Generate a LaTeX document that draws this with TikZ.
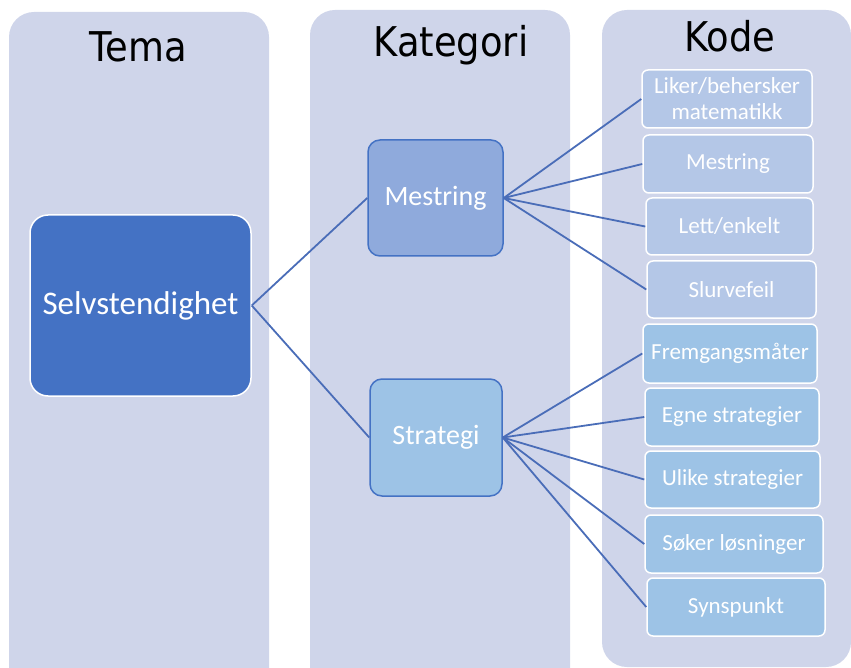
\documentclass[tikz,border=0pt]{standalone}
\usepackage{fontspec}
\setmainfont{Carlito}
\newfontfamily\titlefont[FakeStretch=0.9]{DejaVu Sans}
\definecolor{panelc}{HTML}{CFD5EA}
\definecolor{darkb}{HTML}{4472C4}
\definecolor{midb}{HTML}{8FAADC}
\definecolor{lightb}{HTML}{9DC3E6}
\definecolor{paleb}{HTML}{B4C7E7}
\definecolor{linec}{HTML}{4A6DB8}
\tikzset{
  panel/.style={fill=panelc, draw=none, rounded corners=25pt},
  title/.style={font=\titlefont\fontsize{41}{44}\selectfont, text=black, anchor=base},
  boxbase/.style={rectangle, inner sep=0pt, text=white, align=center, line width=1.5pt},
  themebox/.style={boxbase, fill=darkb, draw=white, rounded corners=18pt, font=\fontsize{33}{38}\selectfont},
  catbox/.style={boxbase, draw=darkb, rounded corners=12pt, font=\fontsize{28}{32}\selectfont},
  codebox/.style={boxbase, draw=white, rounded corners=6pt, font=\fontsize{23}{26}\selectfont},
  conn/.style={draw=linec, line width=1.8pt},
}
\begin{document}
\begin{tikzpicture}[x=1pt, y=-1pt]
\useasboundingbox (0,0) rectangle (851,668);
\begin{scope}
\clip (0,0) rectangle (851,668);
\fill[panel] (9,12) rectangle (269,720);
\fill[panel] (310,10) rectangle (570,720);
\fill[panel] (602,10) rectangle (851,667);
\end{scope}

\node[title] (ttema) at (138,62) {Tema};
\node[title] (tkat) at (451,57) {Kategori};
\node[title] (tkode) at (730,52) {Kode};

\node[themebox, minimum width=221pt, minimum height=181pt] (selv) at (140.5,305.5) {Selvstendighet};

\node[catbox, fill=midb, minimum width=135pt, minimum height=116pt] (mest) at (435.5,198) {Mestring};
\node[catbox, fill=lightb, minimum width=132pt, minimum height=117pt] (strat) at (436,437.5) {Strategi};

\node[codebox, fill=paleb, minimum width=170pt, minimum height=58pt] (c1) at (727,99) {Liker/behersker\\matematikk};
\node[codebox, fill=paleb, minimum width=170pt, minimum height=58pt] (c2) at (728,164) {Mestring};
\node[codebox, fill=paleb, minimum width=167pt, minimum height=57pt] (c3) at (729.5,226.5) {Lett/enkelt};
\node[codebox, fill=paleb, minimum width=169pt, minimum height=57pt] (c4) at (731.5,289.5) {Slurvefeil};

\node[codebox, fill=lightb, minimum width=174pt, minimum height=59pt] (c5) at (730,353.5) {Fremgangsmåter};
\node[codebox, fill=lightb, minimum width=174pt, minimum height=58pt] (c6) at (732,417) {Egne strategier};
\node[codebox, fill=lightb, minimum width=175pt, minimum height=57pt] (c7) at (732.5,479.5) {Ulike strategier};
\node[codebox, fill=lightb, minimum width=178pt, minimum height=58pt] (c8) at (734,544) {Søker løsninger};
\node[codebox, fill=lightb, minimum width=178pt, minimum height=58pt] (c9) at (736,607) {Synspunkt};

\draw[conn] (selv.east) -- (mest.west);
\draw[conn] (selv.east) -- (strat.west);
\foreach \c in {c1,c2,c3,c4} { \draw[conn] (mest.east) -- (\c.west); }
\foreach \c in {c5,c6,c7,c8,c9} { \draw[conn] (strat.east) -- (\c.west); }
\end{tikzpicture}
\end{document}
